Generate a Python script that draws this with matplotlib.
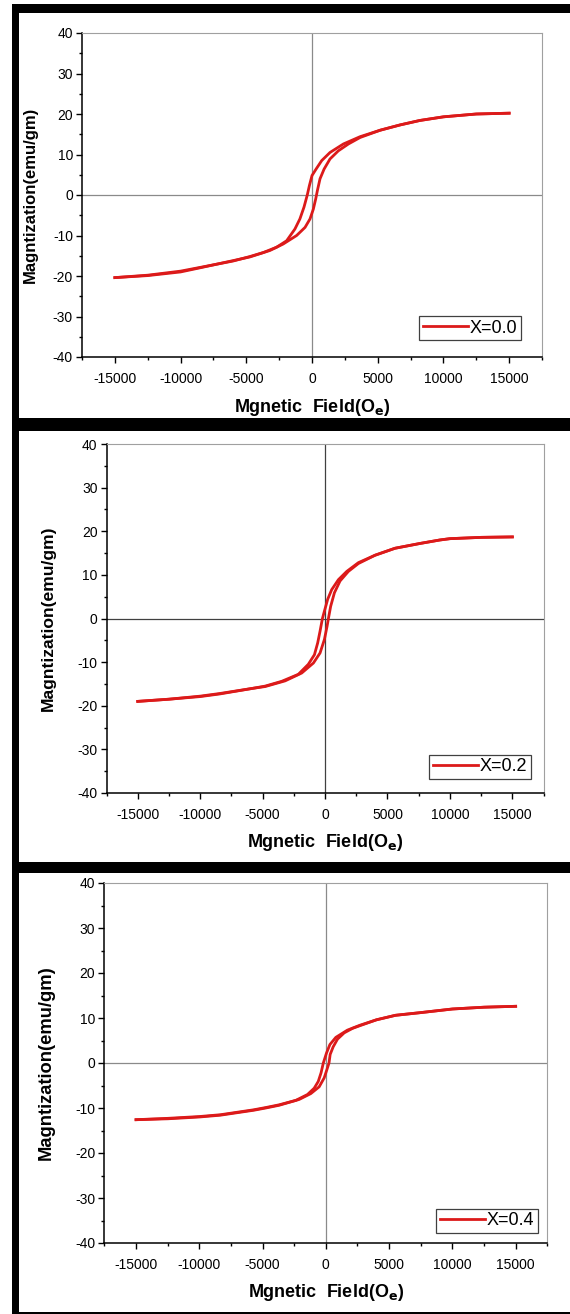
import numpy as np
import matplotlib
matplotlib.use('Agg')
import matplotlib.pyplot as plt
from matplotlib.patches import Rectangle
from matplotlib.ticker import MultipleLocator

plt.rcParams['font.family'] = ['Liberation Sans', 'DejaVu Sans']
plt.rcParams['axes.unicode_minus'] = False

# ---- data (field in Oe, magnetization in emu/gm) ----
# X = 0.0  (descending branch from +15000, ascending branch from -15000)
h_down_0 = [15000, 12500, 10000, 8200, 6700, 5190, 3660, 2390, 1370, 740, 310, 0, -200,
            -360, -610, -920, -1300, -1930, -2700, -3700, -4730, -6000, -8550, -10000,
            -12500, -15000]
m_down_0 = [20.2, 20.0, 19.3, 18.4, 17.3, 16.0, 14.4, 12.6, 10.5, 8.5, 6.4, 4.8, 2.3,
            0.0, -3.0, -5.9, -8.4, -11.3, -12.9, -14.2, -15.2, -16.3, -17.9, -18.8,
            -19.8, -20.4]
h_up_0 = [-15000, -12500, -10000, -8550, -6000, -4730, -3200, -2190, -1170, -530, -150,
          100, 280, 410, 610, 920, 1370, 2000, 2770, 3660, 5190, 6700, 8200, 10000,
          12500, 15000]
m_up_0 = [-20.4, -19.9, -19.0, -18.0, -16.2, -15.3, -13.7, -12.1, -10.0, -8.0, -5.9,
          -3.5, -1.0, 1.1, 4.0, 6.4, 8.9, 10.9, 12.6, 14.2, 16.0, 17.3, 18.4, 19.3,
          20.0, 20.2]

# X = 0.2
h_down_2 = [15000, 12500, 10000, 9200, 7600, 5600, 4000, 2670, 1740, 1070, 530, 210,
            -50, -210, -400, -590, -850, -1340, -2140, -3470, -4800, -5770, -8440,
            -10000, -12500, -15000]
m_down_2 = [18.7, 18.6, 18.3, 18.0, 17.2, 16.1, 14.5, 12.8, 10.8, 8.9, 6.6, 4.4, 1.7,
            0.0, -2.9, -5.6, -8.3, -10.5, -12.8, -14.4, -15.5, -16.0, -17.2, -17.8,
            -18.5, -19.0]
h_up_2 = [-15000, -12500, -10000, -8440, -5770, -4800, -3200, -1870, -930, -400, -50,
          160, 270, 450, 750, 1200, 1870, 2670, 4000, 5600, 7600, 9200, 10000, 12500,
          15000]
m_up_2 = [-19.0, -18.5, -17.9, -17.3, -16.0, -15.6, -14.3, -12.5, -10.2, -7.9, -4.8,
          -1.8, 0.0, 2.8, 5.9, 8.6, 10.8, 12.6, 14.5, 16.1, 17.2, 18.0, 18.3, 18.6,
          18.7]

# X = 0.4
h_down_4 = [15000, 12500, 10000, 7500, 5500, 4000, 2700, 1700, 790, 320, 50, -200, -380,
            -600, -920, -1450, -2370, -3700, -4750, -5700, -8340, -10000, -12500,
            -15000]
m_down_4 = [12.6, 12.4, 12.0, 11.2, 10.6, 9.6, 8.4, 7.3, 5.7, 4.1, 2.2, 0.0, -2.2, -4.1,
            -5.6, -7.0, -8.3, -9.3, -9.9, -10.4, -11.5, -11.9, -12.3, -12.6]
h_up_4 = [-15000, -12500, -10000, -8340, -5700, -4750, -3700, -2110, -1190, -530, -130,
          80, 250, 340, 580, 920, 1450, 2110, 2700, 4000, 5500, 7500, 10000, 12500,
          15000]
m_up_4 = [-12.6, -12.4, -12.0, -11.6, -10.5, -10.0, -9.4, -8.1, -6.8, -5.3, -3.3, -1.5,
          0.0, 1.9, 3.6, 5.3, 6.7, 7.7, 8.3, 9.6, 10.6, 11.2, 12.0, 12.4, 12.6]

labels = ['X=0.0', 'X=0.2', 'X=0.4']
downs = [(h_down_0, m_down_0), (h_down_2, m_down_2), (h_down_4, m_down_4)]
ups = [(h_up_0, m_up_0), (h_up_2, m_up_2), (h_up_4, m_up_4)]

# ---- layout (pixels of the 570 x 1314 picture) ----
W, H = 570, 1314
fig = plt.figure(figsize=(W / 100, H / 100), dpi=100)
fig.patch.set_facecolor('white')

def px_rect(x0, y0, x1, y1):
    return [x0 / W, 1 - y1 / H, (x1 - x0) / W, (y1 - y0) / H]

# black frames around the three panels
for (x0, y0, x1, y1) in [(12, 4, 570, 12.5), (12, 4, 19.5, 1314),
                         (12, 418, 570, 431), (12, 862, 570, 872.5),
                         (12, 1312, 570, 1314)]:
    r = px_rect(x0, y0, x1, y1)
    fig.patches.append(Rectangle((r[0], r[1]), r[2], r[3], transform=fig.transFigure,
                                 facecolor='black', edgecolor='none', zorder=0))

axes_px = [(82, 33, 542, 357), (106.5, 444, 543.6, 793), (104.4, 883, 547.3, 1243)]
zero_col = ['#8a8a8a', '#404040', '#8a8a8a']
ylab_x = [-0.096, -0.116, -0.113]
ylab_size = [12, 12.6, 13.2]
xlab_y = [-0.123, -0.111, -0.108]
leg_anchor = [(0.954, 0.052), (0.971, 0.040), (0.979, 0.028)]
red = '#dc1a1a'

for i in range(3):
    ax = fig.add_axes(px_rect(*axes_px[i]))
    ax.axhline(0, color=zero_col[i], lw=0.9, zorder=1)
    ax.axvline(0, color=zero_col[i], lw=0.9, zorder=1)
    ax.plot(downs[i][0], downs[i][1], color=red, lw=2.0, label=labels[i], zorder=3,
            solid_joinstyle='round')
    ax.plot(ups[i][0], ups[i][1], color=red, lw=2.0, zorder=3, solid_joinstyle='round')

    ax.set_xlim(-17500, 17500)
    ax.set_ylim(-40, 40)
    ax.xaxis.set_major_locator(MultipleLocator(5000))
    ax.xaxis.set_minor_locator(MultipleLocator(2500))
    ax.yaxis.set_major_locator(MultipleLocator(10))
    ax.yaxis.set_minor_locator(MultipleLocator(5))
    ax.tick_params(which='major', direction='out', length=4.5, width=1.0,
                   labelsize=10, pad=2, colors='black')
    ax.tick_params(which='minor', direction='out', length=2.5, width=1.0)
    ax.tick_params(axis='x', pad=6)
    for s in ['left', 'bottom']:
        ax.spines[s].set_linewidth(1.1)
    for s in ['top', 'right']:
        ax.spines[s].set_color('#a0a0a0')
        ax.spines[s].set_linewidth(0.8)

    ax.set_ylabel('Magntization(emu/gm)', fontsize=ylab_size[i], fontweight='bold')
    ax.yaxis.set_label_coords(ylab_x[i], 0.5)
    ax.set_xlabel(r'Mgnetic  Field(O$_\mathbf{e}$)', fontsize=13, fontweight='bold')
    ax.xaxis.set_label_coords(0.5, xlab_y[i])

    leg = ax.legend(loc='lower right', bbox_to_anchor=leg_anchor[i], borderaxespad=0,
                    fancybox=False, framealpha=1, edgecolor='#404040',
                    handlelength=2.5, handletextpad=0.1, borderpad=0.2,
                    prop={'size': 13})
    leg.get_frame().set_linewidth(0.9)

fig.savefig('out.png', dpi=100, facecolor=fig.get_facecolor())
